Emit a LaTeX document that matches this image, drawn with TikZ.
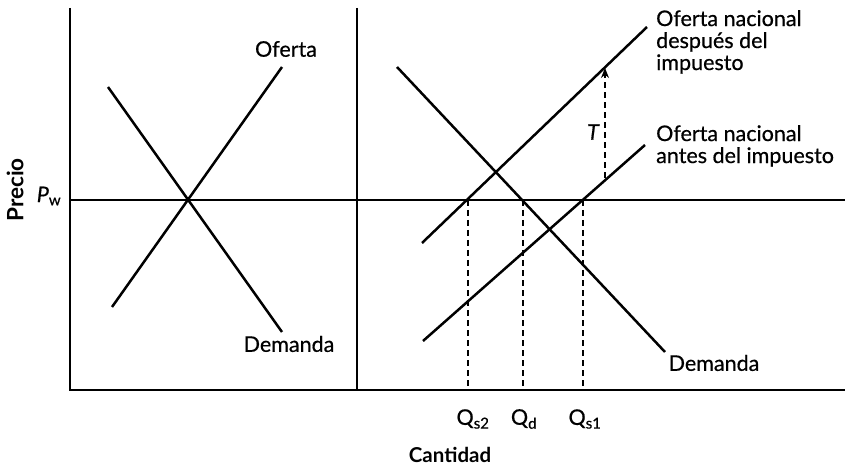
\documentclass[tikz,border=0pt]{standalone}
\usepackage{fontspec}
\setmainfont{Lato}
\newfontfamily\lblfont{Lato}[FakeBold=0.6]
\usetikzlibrary{arrows.meta}
\begin{document}
\begin{tikzpicture}[x=1pt,y=-1pt,
  curve/.style={line width=2.5pt},
  axis/.style={line width=2.1pt},
  guide/.style={line width=2pt, dash pattern=on 6pt off 4pt},
  lbl/.style={font=\lblfont\fontsize{21.5}{22}\selectfont, inner sep=0pt},
  ttl/.style={font=\fontsize{20.5}{24}\selectfont\bfseries, inner sep=0pt},
  ]
\useasboundingbox (0,0) rectangle (847,468);
% axes
\coordinate (Ltop) at (70,8); \coordinate (Lbot) at (70,390);
\coordinate (Mtop) at (357,8); \coordinate (Mbot) at (357,390);
\coordinate (Rbot) at (845,390);
\coordinate (Pl) at (70,200); \coordinate (Pr) at (845,200);
\draw[axis] (Ltop) -- (Lbot) -- (Rbot);
\draw[axis] (Mtop) -- (Mbot);
\draw[axis] (Pl) -- (Pr);
% left panel
\coordinate (LS1) at (112,307); \coordinate (LS2) at (282,67);
\coordinate (LD1) at (108,87); \coordinate (LD2) at (282,332);
\draw[curve] (LS1) -- (LS2);
\draw[curve] (LD1) -- (LD2);
% right panel
\coordinate (RD1) at (397,67); \coordinate (RD2) at (665,352);
\coordinate (SA1) at (422,243); \coordinate (SA2) at (647,27);
\coordinate (SB1) at (423,341); \coordinate (SB2) at (645,145);
\draw[curve] (RD1) -- (RD2);
\draw[curve] (SA1) -- (SA2);
\draw[curve] (SB1) -- (SB2);
% guides
\coordinate (q2t) at (468,200); \coordinate (q2b) at (468,390);
\coordinate (qdt) at (523,200); \coordinate (qdb) at (523,390);
\coordinate (q1t) at (583,200); \coordinate (q1b) at (583,390);
\draw[guide] (q2t) -- (q2b);
\draw[guide] (qdt) -- (qdb);
\draw[guide] (q1t) -- (q1b);
\coordinate (Tb) at (605,178); \coordinate (Tt) at (605,68);
\draw[guide, -{Stealth[length=10pt,width=8pt]}] (Tb) -- (Tt);
% labels
\node[lbl] (ofL) at (286,49) {Oferta};
\node[lbl] (deL) at (289,344) {Demanda};
\node[lbl] (deR) at (714,363) {Demanda};
\node[lbl, anchor=north west, align=left] (ofA) at (656,10) {Oferta nacional\\después del\\impuesto};
\node[lbl, anchor=north west, align=left] (ofB) at (656,125) {Oferta nacional\\antes del impuesto};
\node[lbl] (T) at (593,132) {\itshape T};
\node[lbl] (Pw) at (49,196) {{\itshape P}\textsubscript{w}};
\node[ttl, font=\fontsize{22.5}{26}\selectfont\bfseries, rotate=90] (precio) at (15,190) {Precio};
\node[lbl] (Qs2) at (473,419) {Q\textsubscript{s2}};
\node[lbl] (Qd) at (524,419) {Q\textsubscript{d}};
\node[lbl] (Qs1) at (585,419) {Q\textsubscript{s1}};
\node[ttl] (cant) at (450,455) {Cantidad};
\end{tikzpicture}
\end{document}
